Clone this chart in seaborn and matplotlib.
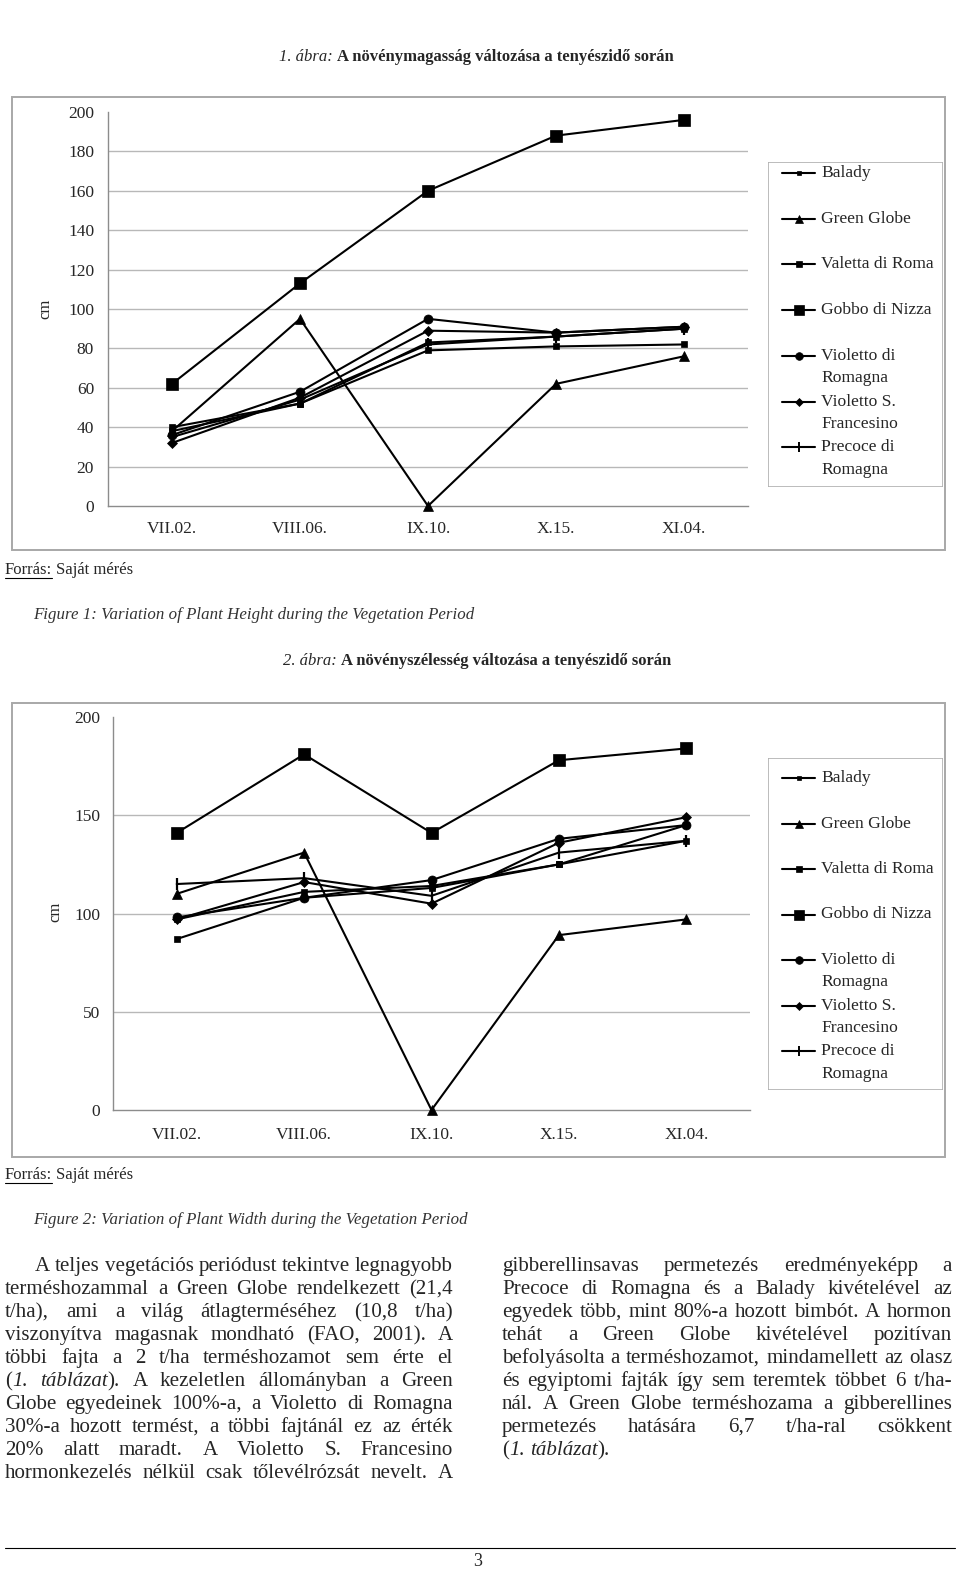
import numpy as np
import pandas as pd
import matplotlib
matplotlib.use('Agg')
import matplotlib.pyplot as plt
from matplotlib.patches import Rectangle
from matplotlib.lines import Line2D
import seaborn as sns

# %%
# dates of measurement and varieties
dates = ['VII.02.', 'VIII.06.', 'IX.10.', 'X.15.', 'XI.04.']
varieties = ['Balady', 'Green Globe', 'Valetta di Roma', 'Gobbo di Nizza',
             'Violetto di\nRomagna', 'Violetto S.\nFrancesino', 'Precoce di\nRomagna']

# plant height, cm (figure 1)
height_balady = [40, 52, 79, 81, 82]
height_green_globe = [38, 95, 0, 62, 76]
height_valetta = [38, 52, 83, 86, 90]
height_gobbo = [62, 113, 160, 188, 196]
height_violetto_r = [36, 58, 95, 88, 91]
height_violetto_sf = [32, 55, 89, 88, 91]
height_precoce = [35, 54, 82, 86, 90]

# plant width, cm (figure 2)
width_balady = [87, 108, 113, 125, 137]
width_green_globe = [110, 131, 0, 89, 97]
width_valetta = [97, 111, 114, 125, 145]
width_gobbo = [141, 181, 141, 178, 184]
width_violetto_r = [98, 108, 117, 138, 145]
width_violetto_sf = [97, 116, 105, 136, 149]
width_precoce = [115, 118, 109, 131, 137]

markers = ['s', '^', 's', 's', 'o', 'D', '|']
msizes = [4, 6.5, 5, 8, 6.5, 5, 9]

# %%
def make_df(series):
    rows = []
    for v, vals in zip(varieties, series):
        for i, val in enumerate(vals):
            rows.append({'variety': v, 'pos': i, 'date': dates[i], 'value': val})
    return pd.DataFrame(rows)

df_height = make_df([height_balady, height_green_globe, height_valetta, height_gobbo,
                     height_violetto_r, height_violetto_sf, height_precoce])
df_width = make_df([width_balady, width_green_globe, width_valetta, width_gobbo,
                    width_violetto_r, width_violetto_sf, width_precoce])

# %%
sns.set_style('white')
plt.rcParams['font.family'] = ['Liberation Serif', 'DejaVu Serif']

W, H = 960, 1577
fig = plt.figure(figsize=(W / 100, H / 100), dpi=100)
renderer = fig.canvas.get_renderer()

def fx(x):
    return x / W

def fy(y):
    return 1 - y / H

def pbox(x0, y0, x1, y1):
    return [x0 / W, 1 - y1 / H, (x1 - x0) / W, (y1 - y0) / H]

def frame(x0, y0, x1, y1, color='#a8a8a8', lw=1.4):
    fig.add_artist(Rectangle((fx(x0), fy(y1)), (x1 - x0) / W, (y1 - y0) / H,
                             transform=fig.transFigure, fill=False, ec=color, lw=lw))

def draw_chart(ax, df, ymax, step, ypad, xpad):
    for i, v in enumerate(varieties):
        sub = df[df['variety'] == v]
        sns.lineplot(data=sub, x='pos', y='value', ax=ax, color='black', lw=1.5,
                     marker=markers[i], markersize=msizes[i], markeredgecolor='black',
                     markeredgewidth=1.6 if markers[i] == '|' else 0.5,
                     errorbar=None, legend=False, clip_on=False, zorder=3)
    ax.set_xlim(-0.5, 4.5)
    ax.set_ylim(0, ymax)
    ax.set_yticks(range(0, ymax + 1, step))
    ax.set_xticks(range(len(dates)))
    ax.set_xticklabels(dates)
    ax.set_xticks([0.5, 1.5, 2.5, 3.5, 4.5], minor=True)
    ax.set_xlabel('')
    ax.set_ylabel('')
    for y in range(step, ymax, step):
        ax.axhline(y, color='#b8b8b8', lw=1, zorder=0)
    for s in ['top', 'right']:
        ax.spines[s].set_visible(False)
    for s in ['left', 'bottom']:
        ax.spines[s].set_color('#8c8c8c')
        ax.spines[s].set_linewidth(1)
    ax.tick_params(axis='y', length=3, color='#8c8c8c', pad=ypad, labelsize=12.5)
    ax.tick_params(axis='x', which='major', length=0, pad=xpad, labelsize=12.5)
    ax.tick_params(axis='x', which='minor', length=4, color='#8c8c8c')
    ax.patch.set_alpha(0)

def draw_legend(x0, y0, x1, y1, first_y, pitch):
    lax = fig.add_axes(pbox(x0, y0, x1, y1))
    lax.set_xlim(x0, x1)
    lax.set_ylim(y1, y0)
    lax.axis('off')
    lax.add_patch(Rectangle((0, 0), 1, 1, transform=lax.transAxes, fill=False,
                            ec='#b0b0b0', lw=1.2))
    for i, v in enumerate(varieties):
        y = first_y + pitch * i
        lax.plot([x0 + 14, x0 + 30.5, x0 + 47], [y, y, y], color='black', lw=1.5,
                 marker=markers[i], markersize=msizes[i] * 0.85, markevery=[1],
                 markeredgewidth=1.4 if markers[i] == '|' else 0.5)
        for k, part in enumerate(v.split('\n')):
            lax.text(x0 + 53, y + 22.5 * k, part, fontsize=12.6, va='center', ha='left')

def title(x, y, lead, rest):
    t = fig.text(fx(x), fy(y), lead, fontsize=12, style='italic', va='center')
    bb = t.get_window_extent(renderer)
    fig.text(fx(bb.x1 + 4), fy(y), rest, fontsize=12, weight='bold', va='center')

def source(y):
    t = fig.text(fx(5), fy(y), 'Forrás:', fontsize=12, va='center')
    bb = t.get_window_extent(renderer)
    fig.text(fx(bb.x1 + 4), fy(y), 'Saját mérés', fontsize=12, va='center')
    fig.add_artist(Line2D([fx(5), fx(bb.x1)], [fy(y + 8), fy(y + 8)],
                          transform=fig.transFigure, color='black', lw=0.8))

# %%
# figure 1
title(279, 57, '1. ábra:', 'A növénymagasság változása a tenyészidő során')
frame(12, 97, 945, 550)
ax1 = fig.add_axes(pbox(108, 112, 748, 506))
draw_chart(ax1, df_height, 200, 20, ypad=7, xpad=11)
fig.text(fx(45), fy(309), 'cm', fontsize=12, rotation=90, va='center', ha='center')
draw_legend(768, 162, 943, 487, 173, 45.7)
source(570)
fig.text(fx(33), fy(615), 'Figure 1: Variation of Plant Height during the Vegetation Period',
         fontsize=12.2, style='italic', va='center', color='#333333')

# figure 2
title(283, 661, '2. ábra:', 'A növényszélesség változása a tenyészidő során')
frame(12, 703, 945, 1157)
ax2 = fig.add_axes(pbox(113, 717, 750, 1110))
draw_chart(ax2, df_width, 200, 50, ypad=6, xpad=12)
fig.text(fx(55), fy(912), 'cm', fontsize=12, rotation=90, va='center', ha='center')
draw_legend(768, 758, 943, 1090, 778, 45.5)
source(1175)
fig.text(fx(33), fy(1220), 'Figure 2: Variation of Plant Width during the Vegetation Period',
         fontsize=12.2, style='italic', va='center', color='#333333')

# %%
# body text, justified
left_lines = [
    'A teljes vegetációs periódust tekintve legnagyobb',
    'terméshozammal a Green Globe rendelkezett (21,4',
    't/ha), ami a világ átlagterméséhez (10,8 t/ha)',
    'viszonyítva magasnak mondható (FAO, 2001). A',
    'többi fajta a 2 t/ha terméshozamot sem érte el',
    '(*1.* *táblázat*). A kezeletlen állományban a Green',
    'Globe egyedeinek 100%-a, a Violetto di Romagna',
    '30%-a hozott termést, a többi fajtánál ez az érték',
    '20% alatt maradt. A Violetto S. Francesino',
    'hormonkezelés nélkül csak tőlevélrózsát nevelt. A',
]
right_lines = [
    'gibberellinsavas permetezés eredményeképp a',
    'Precoce di Romagna és a Balady kivételével az',
    'egyedek több, mint 80%-a hozott bimbót. A hormon',
    'tehát a Green Globe kivételével pozitívan',
    'befolyásolta a terméshozamot, mindamellett az olasz',
    'és egyiptomi fajták így sem teremtek többet 6 t/ha-',
    'nál. A Green Globe terméshozama a gibberellines',
    'permetezés hatására 6,7 t/ha-ral csökkent',
    '(*1.* *táblázat*).',
]

def parse(line):
    words = []
    italic = False
    for token in line.split(' '):
        segs = []
        for k, p in enumerate(token.split('*')):
            if k > 0:
                italic = not italic
            if p:
                segs.append((p, italic))
        words.append(segs)
    return words

def build_line(line, base, fs):
    arts, widths = [], []
    for w in parse(line):
        wa, ww = [], 0
        for text, it in w:
            t = fig.text(0, fy(base), text, fontsize=fs, va='baseline',
                         style='italic' if it else 'normal')
            tw = t.get_window_extent(renderer).width
            wa.append((t, tw))
            ww += tw
        arts.append(wa)
        widths.append(ww)
    return arts, widths

def fit_size(blocks, trial=12.0):
    # largest size where the tightest line still fits with a normal word space
    ratio = 0
    for lines, width, indent in blocks:
        for li, line in enumerate(lines):
            arts, widths = build_line(line, 0, trial)
            for wa in arts:
                for t, _ in wa:
                    t.remove()
            space = trial * 0.25 * 100 / 72
            need = sum(widths) + space * (len(widths) - 1)
            avail = width - (indent if li == 0 else 0)
            ratio = max(ratio, need / avail)
    return trial / ratio

def paragraph(lines, x0, x1, base0, dy, fs, indent=0, justify_last=True):
    space = fs * 0.25 * 100 / 72
    for li, line in enumerate(lines):
        base = base0 + li * dy
        start = x0 + (indent if li == 0 else 0)
        arts, widths = build_line(line, base, fs)
        last = li == len(lines) - 1
        if (not last or justify_last) and len(widths) > 1:
            gap = (x1 - start - sum(widths)) / (len(widths) - 1)
        else:
            gap = space
        x = start
        for wa, ww in zip(arts, widths):
            xx = x
            for t, tw in wa:
                t.set_x(fx(xx))
                xx += tw
            x += ww + gap

body_fs = fit_size([(left_lines, 448, 30), (right_lines[:-1], 450, 0)])
paragraph(left_lines, 5, 453, 1271, 23.0, body_fs, indent=30, justify_last=True)
paragraph(right_lines, 502, 952, 1271, 23.0, body_fs, justify_last=False)

# page footer
fig.add_artist(Line2D([fx(5), fx(955)], [fy(1548), fy(1548)], transform=fig.transFigure,
                      color='black', lw=0.8))
fig.text(fx(478), fy(1561), '3', fontsize=13, ha='center', va='center')

plt.savefig('out.png', dpi=100)
